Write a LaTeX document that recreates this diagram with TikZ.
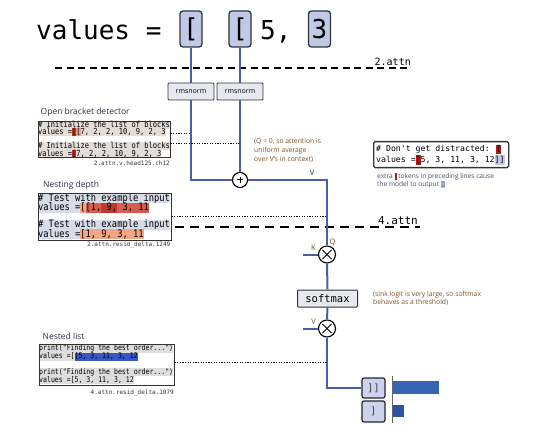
\documentclass[tikz,border=0pt]{standalone}
\usepackage{fontspec}
\setmainfont{Open Sans}
\setmonofont{DejaVu Sans Mono}
\newfontfamily\codefont{DejaVu Sans Mono}
\newfontfamily\condmono[FakeStretch=0.85]{DejaVu Sans Mono}
\newcommand\fsz[1]{\fontsize{#1pt}{1.2\dimexpr #1pt\relax}\selectfont}
\newcommand\panelstrut{}
\newcommand\hlx[2]{{\setlength{\fboxsep}{0pt}\colorbox{#1}{\panelstrut#2}}}
\definecolor{blueline}{HTML}{4A5EA8}
\definecolor{tokfill}{HTML}{C2C8E8}
\definecolor{rmsfill}{HTML}{E6E9EF}
\definecolor{pA}{HTML}{E4DCD6}
\definecolor{pred}{HTML}{C62F2A}
\definecolor{pred2}{HTML}{E3A394}
\definecolor{pB}{HTML}{D7DCE8}
\definecolor{salmon}{HTML}{F4A582}
\definecolor{redA}{HTML}{D6604D}
\definecolor{redB}{HTML}{C0392F}
\definecolor{pC}{HTML}{DDDDDD}
\definecolor{pblue}{HTML}{3657C4}
\definecolor{dred}{HTML}{B3171A}
\definecolor{annot}{HTML}{7C5326}
\definecolor{annot2}{HTML}{474E6B}
\definecolor{labcol}{HTML}{7B4A1C}
\definecolor{barA}{HTML}{3565B3}
\definecolor{barB}{HTML}{2A54A6}
\definecolor{edge}{HTML}{333333}
\definecolor{titcol}{HTML}{2B3048}
\begin{document}
\begin{tikzpicture}[x=1pt,y=-1pt,
  tokbox/.style={draw=edge,line width=1.3pt,fill=tokfill,rounded corners=3pt,minimum width=22pt,minimum height=36pt,inner sep=0pt,font=\codefont\fsz{26}},
  rmsbox/.style={draw=edge,line width=0.9pt,fill=rmsfill,rounded corners=1pt,minimum width=46pt,minimum height=17pt,inner sep=0pt,font=\fsz{7}},
  flow/.style={draw=blueline,line width=2pt},
  sepline/.style={draw=black,line width=1.4pt},
  dotln/.style={draw=black,line width=0.7pt,dash pattern=on 1.3pt off 1.3pt},
  opcirc/.style={circle,draw=black,line width=1.1pt,fill=white,inner sep=0pt},
  codeln/.style={anchor=west,inner sep=0pt},
  panel/.style={draw=edge,line width=0.9pt,anchor=north west,inner sep=0pt},
  ptitle/.style={anchor=west,inner sep=0pt,font=\fsz{8.5},text=titcol},
  plabel/.style={anchor=east,inner sep=0pt,font=\codefont\fsz{6},text=black!80},
  opl/.style={inner sep=0pt,font=\fsz{7.5},text=labcol},
  outbox/.style={draw=black!85,line width=1.2pt,fill=tokfill!80!white,rounded corners=2pt,minimum width=23pt,minimum height=20pt,inner sep=0pt,font=\codefont\fsz{10},text=black!75},
  smbox/.style={draw=edge,line width=1pt,fill=rmsfill,rounded corners=1pt,minimum width=60pt,minimum height=17pt,inner sep=0pt,font=\codefont\fsz{10.5}},
  pluscirc/.style={opcirc,minimum size=15pt,path picture={
    \draw[line width=1pt] ([xshift=-3.3pt]path picture bounding box.center) -- ([xshift=3.3pt]path picture bounding box.center);
    \draw[line width=1pt] ([yshift=-3.3pt]path picture bounding box.center) -- ([yshift=3.3pt]path picture bounding box.center);}},
  mulcirc/.style={opcirc,minimum size=17pt,path picture={
    \draw[line width=0.9pt] ([shift={(-4.6pt,-4.6pt)}]path picture bounding box.center) -- ([shift={(4.6pt,4.6pt)}]path picture bounding box.center);
    \draw[line width=0.9pt] ([shift={(-4.6pt,4.6pt)}]path picture bounding box.center) -- ([shift={(4.6pt,-4.6pt)}]path picture bounding box.center);}}
]
\useasboundingbox (0,0) rectangle (534,435);

% separator lines
\coordinate (s1a) at (55,68); \coordinate (s1b) at (411,68);
\draw[sepline,dash pattern=on 7pt off 4.5pt] (s1a) -- (s1b);
\node[anchor=south east,inner sep=0pt,font=\codefont\fsz{10}] (l2attn) at (411,65.5) {2.attn};
\coordinate (s2a) at (175,227); \coordinate (s2b) at (420,227);
\draw[sepline,line width=1.6pt,dash pattern=on 9pt off 6pt] (s2a) -- (s2b);
\node[anchor=south east,inner sep=0pt,font=\codefont\fsz{11}] (l4attn) at (418,224.5) {4.attn};

% title
\node[anchor=base west,inner sep=0pt,font=\codefont\fsz{26}] (ttl) at (36,40) {values =};
\node[tokbox] (b1) at (191,29) {[};
\node[tokbox] (b2) at (240,29) {[};
\node[anchor=base west,inner sep=0pt,font=\codefont\fsz{26}] (five) at (260,40) {5,};
\node[tokbox] (b3) at (319.5,29) {3};

% rmsnorm
\node[rmsbox] (r1) at (191,91.5) {rmsnorm};
\node[rmsbox] (r2) at (240,91.5) {rmsnorm};

% operators
\node[pluscirc] (plus) at (240,180) {};
\node[mulcirc] (m1) at (327,254.5) {};
\node[smbox] (sm) at (327.5,298.5) {softmax};
\node[mulcirc] (m2) at (327,328.5) {};
\coordinate (kin) at (303,254.5);
\coordinate (vin) at (303,328.5);

% output boxes and bars
\node[outbox] (o1) at (373.5,388) {]]};
\node[outbox,minimum height=21pt] (o2) at (373.5,411.5) {]};
\coordinate (ax1) at (392,376); \coordinate (ax2) at (392,423);
\draw[black!60,line width=1pt] (ax1) -- (ax2);
\fill[barA] (393,381) rectangle (439,394);
\fill[barB] (393,405) rectangle (404,417);

% flow lines
\draw[flow] (b1.south) -- (r1.north);
\draw[flow] (b2.south) -- (r2.north);
\draw[flow] (r1.south) |- (plus.west);
\draw[flow] (r2.south) -- (plus.north);
\draw[flow] (plus.east) -| (m1.north);
\draw[flow] (kin) -- (m1.west);
\draw[flow] (m1.south) -- (sm.north);
\draw[flow] (sm.south) -- (m2.north);
\draw[flow] (vin) -- (m2.west);
\draw[flow] (m2.south) |- (o1.west);

% operator labels
\node[opl,text=black!85] (lV1) at (312,173) {V};
\node[opl] (lK) at (313.5,247.5) {K};
\node[opl] (lQ) at (332.5,242) {Q};
\node[opl] (lV2) at (313.5,321.5) {V};

% annotations
\node[anchor=north west,inner sep=0pt,align=left,font=\fontsize{6.8pt}{9pt}\selectfont,text=annot] (qnote) at (254,138.5) {(Q = 0, so attention is\\uniform average\\over V's in context)};
\node[anchor=north west,inner sep=0pt,align=left,font=\fontsize{6.8pt}{8pt}\selectfont,text=annot] (snote) at (373,291.5) {(sink logit is very large, so softmax\\behaves as a threshold)};

% ---------- Panel 1: Open bracket detector
\node[ptitle] (t1) at (40.5,112) {Open bracket detector};
\renewcommand\panelstrut{\rule[-1.5pt]{0pt}{7.5pt}}
\node[codeln,font=\condmono\fsz{8.3}] (p1a) at (38,124.75) {\hlx{pA}{\# Initialize the list of blocks}};
\node[codeln,font=\condmono\fsz{8.3}] (p1b) at (38,132.25) {\hlx{pA}{values =}\hlx{pred}{[}\hlx{pred2}{[}\hlx{pA}{7, 2, 2, 10, 9, 2, 3}};
\node[codeln,font=\condmono\fsz{8.3}] (p1c) at (38,146.25) {\hlx{pA}{\# Initialize the list of blocks}};
\node[codeln,font=\condmono\fsz{8.3}] (p1d) at (38,153.75) {\hlx{pA}{values =}\hlx{pred}{[}\hlx{pA}{7, 2, 2, 10, 9, 2, 3}};
\node[panel,minimum width=132pt,minimum height=36.5pt] (pan1) at (38,121) {};
\node[plabel] (lab1) at (170,163) {2.attn.v.head125.ch12};
\coordinate (d1) at (170.5,133);
\coordinate (d2) at (170.5,143);
\draw[dotln] (d1) -- (d1 -| r1.south);
\draw[dotln] (d2) -- (d2 -| r2.south);

% ---------- Panel 2: Nesting depth
\node[ptitle] (t2) at (43,185) {Nesting depth};
\renewcommand\panelstrut{\rule[-2.1pt]{0pt}{9.6pt}}
\node[codeln,font=\condmono\fsz{10.3}] (p2a) at (38,198.3) {\hlx{pB}{\# Test with example input}};
\node[codeln,font=\condmono\fsz{10.3}] (p2b) at (38,207.9) {\hlx{pB}{values =}\hlx{salmon}{[}\hlx{redA}{[1,}\hlx{redB}{ 9,}\hlx{redA}{ 3,}\hlx{redA!90!redB}{ 11}};
\node[codeln,font=\condmono\fsz{10.3}] (p2c) at (38,224.8) {\hlx{pB}{\# Test with example input}};
\node[codeln,font=\condmono\fsz{10.3}] (p2d) at (38,234.4) {\hlx{pB}{values =}\hlx{salmon}{[1, 9, 3, 11}};
\node[panel,minimum width=133pt,minimum height=47pt] (pan2) at (38,193) {};
\node[plabel] (lab2) at (170.5,245) {2.attn.resid\_delta.1249};
\coordinate (d3) at (171.5,216);
\draw[dotln] (d3) -- (d3 -| m1.north);

% ---------- Panel 3: Nested list
\node[ptitle] (t3) at (42.5,336) {Nested list};
\renewcommand\panelstrut{\rule[-1.7pt]{0pt}{8pt}}
\node[codeln,font=\condmono\fsz{7.7}] (p3a) at (39,348.5) {\hlx{pC}{print("Finding the best order...")}};
\node[codeln,font=\condmono\fsz{7.7}] (p3b) at (39,356.5) {\hlx{pC}{values =[}\hlx{pblue}{[5, 3, 11, 3, 12}};
\node[codeln,font=\condmono\fsz{7.7}] (p3c) at (39,372) {\hlx{pC}{print("Finding the best order...")}};
\node[codeln,font=\condmono\fsz{7.7}] (p3d) at (39,380) {\hlx{pC}{values =[5, 3, 11, 3, 12}};
\node[panel,minimum width=135pt,minimum height=41pt] (pan3) at (39,344) {};
\node[plabel] (lab3) at (174,392.5) {4.attn.resid\_delta.1079};
\coordinate (d4) at (174.5,362);
\draw[dotln] (d4) -- (d4 -| m2.south);

% ---------- Right example box
\node[draw=edge,line width=1.3pt,rounded corners=1.5pt,minimum width=135pt,minimum height=26pt,anchor=north west,inner sep=0pt] (rbox) at (373,141) {};
\renewcommand\panelstrut{\rule[-2.2pt]{0pt}{9.4pt}}
\node[codeln,font=\codefont\fsz{8.2}] (r1a) at (376,149.5) {\# Don't get distracted: \hlx{dred}{[}};
\node[codeln,font=\codefont\fsz{8.2}] (r1b) at (376,160) {values =\hlx{dred}{[}5, 3, 11, 3, 12\hlx{tokfill}{]]}};
\renewcommand\panelstrut{\rule[-1.6pt]{0pt}{7pt}}
\node[anchor=north west,inner sep=0pt,align=left,font=\fontsize{6.6pt}{7.6pt}\selectfont,text=annot2] (enote) at (377,173) {extra \hlx{dred}{[} tokens in preceding lines cause\\the model to output \hlx{tokfill}{]]}};
\end{tikzpicture}
\end{document}
